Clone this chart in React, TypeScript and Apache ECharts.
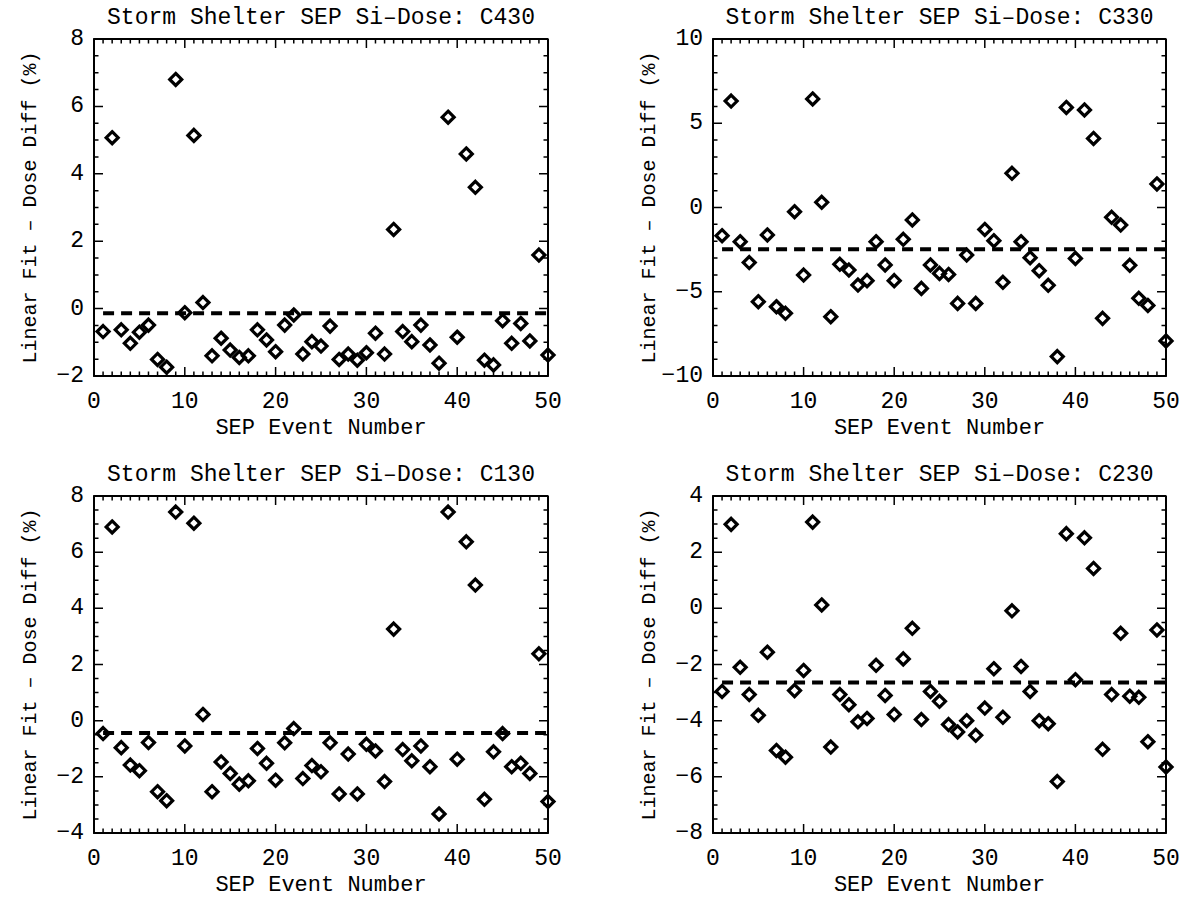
import React, { useEffect, useRef } from "react";
import * as echarts from "echarts";

const eventNumbers = [
  1, 2, 3, 4, 5, 6, 7, 8, 9, 10, 11, 12, 13, 14, 15, 16, 17, 18, 19, 20, 21, 22, 23, 24, 25,
  26, 27, 28, 29, 30, 31, 32, 33, 34, 35, 36, 37, 38, 39, 40, 41, 42, 43, 44, 45, 46, 47, 48, 49, 50,
];

const c430 = [
  -0.68, 5.07, -0.63, -1.03, -0.7, -0.49, -1.51, -1.74, 6.8, -0.12, 5.14, 0.18, -1.4, -0.88, -1.23, -1.45, -1.4,
  -0.63, -0.93, -1.28, -0.49, -0.19, -1.35, -0.98, -1.11, -0.52, -1.51, -1.35, -1.53, -1.31, -0.73, -1.35, 2.35,
  -0.68, -0.98, -0.49, -1.08, -1.62, 5.68, -0.85, 4.59, 3.6, -1.53, -1.67, -0.36, -1.03, -0.44, -0.96, 1.59, -1.38,
];
const c330 = [
  -1.67, 6.32, -2.03, -3.27, -5.59, -1.63, -5.89, -6.28, -0.25, -4.01, 6.44, 0.31, -6.48, -3.37, -3.71, -4.6, -4.34,
  -2.03, -3.41, -4.34, -1.89, -0.74, -4.8, -3.41, -3.91, -3.97, -5.69, -2.82, -5.69, -1.3, -1.97, -4.44, 2.03,
  -2.03, -2.98, -3.75, -4.62, -8.85, 5.94, -3.02, 5.79, 4.1, -6.58, -0.58, -1.04, -3.43, -5.39, -5.81, 1.4, -7.92,
];
const c130 = [
  -0.46, 6.9, -0.96, -1.58, -1.78, -0.78, -2.53, -2.85, 7.43, -0.9, 7.03, 0.22, -2.53, -1.47, -1.88, -2.26, -2.14,
  -0.99, -1.52, -2.12, -0.79, -0.28, -2.06, -1.6, -1.82, -0.79, -2.61, -1.19, -2.61, -0.84, -1.08, -2.17, 3.26,
  -1.03, -1.43, -0.9, -1.64, -3.32, 7.43, -1.37, 6.37, 4.83, -2.8, -1.11, -0.46, -1.64, -1.52, -1.88, 2.38, -2.88,
];
const c230 = [
  -2.96, 2.99, -2.1, -3.07, -3.81, -1.56, -5.06, -5.3, -2.93, -2.21, 3.07, 0.12, -4.94, -3.07, -3.43, -4.04, -3.92,
  -2.03, -3.1, -3.78, -1.8, -0.71, -3.96, -2.96, -3.31, -4.14, -4.4, -4.0, -4.52, -3.55, -2.15, -3.88, -0.09,
  -2.07, -2.96, -4.0, -4.11, -6.17, 2.66, -2.54, 2.51, 1.42, -5.02, -3.07, -0.89, -3.13, -3.17, -4.75, -0.77, -5.65,
];

const meanLines = [-0.14, -2.48, -0.44, -2.64];
const panelNames = ["C430", "C330", "C130", "C230"];
const panelValues = [c430, c330, c130, c230];
const yMins = [-2, -10, -4, -8];
const yMaxs = [8, 10, 8, 4];
const yIntervals = [2, 5, 2, 2];
const yMinorSplits = [4, 5, 4, 4];
const xMin = 0;
const xMax = 50;
const xInterval = 10;
const xMinorSplit = 10;

const titlePrefix = "Storm Shelter SEP Si–Dose: ";
const xName = "SEP Event Number";
const yName = "Linear Fit – Dose Diff (%)";

const FONT = '"Liberation Mono", "DejaVu Sans Mono", monospace';
const FS = 23;
const MAJOR = 9;
const MINOR = 4.5;

const boxes = [
  { left: 94, top: 39, width: 454, height: 337 },
  { left: 713, top: 39, width: 453, height: 337 },
  { left: 94, top: 496, width: 454, height: 337 },
  { left: 713, top: 496, width: 453, height: 337 },
];

const fmt = (v: number) => String(v).replace("-", "−");

function tickValues(min: number, max: number, step: number) {
  const out: number[] = [];
  const n = Math.round((max - min) / step);
  for (let k = 0; k <= n; k++) out.push(+(min + k * step).toFixed(6));
  return out;
}

function makeAxis(gridIndex: number, position: string, min: number, max: number, interval: number) {
  const horizontal = position === "bottom";
  return {
    gridIndex,
    type: "value",
    position,
    min,
    max,
    interval,
    axisLine: { show: true, onZero: false, lineStyle: { color: "#000", width: 2 } },
    axisTick: { show: false },
    splitLine: { show: false },
    axisLabel: {
      show: true,
      margin: horizontal ? 26 : 10,
      verticalAlign: "middle",
      color: "#000",
      fontFamily: FONT,
      fontSize: FS,
      formatter: fmt,
    },
  };
}

export default function App() {
  const ref = useRef<HTMLDivElement>(null);
  useEffect(() => {
    if (!ref.current) return;
    const chart = echarts.init(ref.current, undefined, { renderer: "svg" });
    const grid: any[] = [];
    const xAxis: any[] = [];
    const yAxis: any[] = [];
    const series: any[] = [];
    const graphic: any[] = [];
    boxes.forEach((b, i) => {
      const yMin = yMins[i];
      const yMax = yMaxs[i];
      grid.push({ left: b.left, top: b.top, width: b.width, height: b.height, show: false });
      xAxis.push(makeAxis(i, "bottom", xMin, xMax, xInterval));
      yAxis.push(makeAxis(i, "left", yMin, yMax, yIntervals[i]));

      // frame of the plot box, drawn through the panel's own axes
      series.push({
        type: "line",
        xAxisIndex: i,
        yAxisIndex: i,
        data: [
          [xMin, yMin],
          [xMin, yMax],
          [xMax, yMax],
          [xMax, yMin],
          [xMin, yMin],
        ],
        symbol: "none",
        silent: true,
        clip: false,
        lineStyle: { color: "#000", width: 2 },
        z: 4,
      });

      // inward tick marks on all four sides (major and minor)
      const perX = b.width / (xMax - xMin);
      const perY = b.height / (yMax - yMin);
      const xMajor = tickValues(xMin, xMax, xInterval);
      const yMajor = tickValues(yMin, yMax, yIntervals[i]);
      const tickData: any[] = [];
      tickValues(xMin, xMax, xInterval / xMinorSplit).forEach((t) => {
        const len = (xMajor.some((m) => Math.abs(m - t) < 1e-6) ? MAJOR : MINOR) / perY;
        tickData.push([t, yMin], [t, yMin + len], [t, "-"]);
        tickData.push([t, yMax], [t, yMax - len], [t, "-"]);
      });
      tickValues(yMin, yMax, yIntervals[i] / yMinorSplits[i]).forEach((t) => {
        const len = (yMajor.some((m) => Math.abs(m - t) < 1e-6) ? MAJOR : MINOR) / perX;
        tickData.push([xMin, t], [xMin + len, t], ["-", t]);
        tickData.push([xMax, t], [xMax - len, t], ["-", t]);
      });
      series.push({
        type: "line",
        xAxisIndex: i,
        yAxisIndex: i,
        data: tickData,
        symbol: "none",
        silent: true,
        clip: false,
        connectNulls: false,
        lineStyle: { color: "#000", width: 1.5 },
        z: 4,
      });

      series.push({
        type: "line",
        xAxisIndex: i,
        yAxisIndex: i,
        data: [
          [eventNumbers[0], meanLines[i]],
          [eventNumbers[eventNumbers.length - 1], meanLines[i]],
        ],
        symbol: "none",
        silent: true,
        lineStyle: { color: "#000", width: 4, type: [11, 7] },
        z: 2,
      });
      series.push({
        type: "scatter",
        xAxisIndex: i,
        yAxisIndex: i,
        data: eventNumbers.map((e, k) => [e, panelValues[i][k]]),
        symbol: "diamond",
        symbolSize: 12,
        silent: true,
        itemStyle: { color: "rgba(0,0,0,0)", borderColor: "#000", borderWidth: 3.2, opacity: 1 },
        z: 3,
      });

      const cx = b.left + b.width / 2;
      graphic.push({
        type: "text",
        x: cx,
        y: b.top - 21,
        style: { text: titlePrefix + panelNames[i], font: `${FS}px ${FONT}`, fill: "#000", align: "center", verticalAlign: "middle" },
      });
      graphic.push({
        type: "text",
        x: cx,
        y: b.top + b.height + 52,
        style: { text: xName, font: `22px ${FONT}`, fill: "#000", align: "center", verticalAlign: "middle" },
      });
      graphic.push({
        type: "text",
        x: b.left - 64,
        y: b.top + b.height / 2,
        rotation: Math.PI / 2,
        style: { text: yName, font: `20px ${FONT}`, fill: "#000", align: "center", verticalAlign: "middle" },
      });
    });
    chart.setOption({ animation: false, backgroundColor: "#fff", grid, xAxis, yAxis, series, graphic });
    return () => chart.dispose();
  }, []);
  return <div ref={ref} style={{ position: "fixed", left: 0, top: 0, width: 1184, height: 897 }} />;
}
